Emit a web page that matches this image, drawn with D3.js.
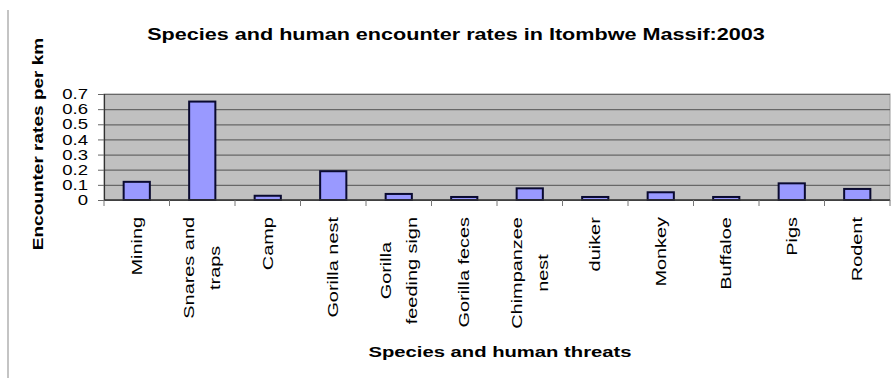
<!DOCTYPE html>
<html>
<head>
<meta charset="utf-8">
<script src="https://cdn.jsdelivr.net/npm/d3@7"></script>
<style>
	body { margin: 0; background: #fff; }
	svg text { font-family: "Liberation Sans", Arial, sans-serif; fill: #000; }
</style>
</head>
<body>
<script>
// data
var categories = ["Mining", "Snares and\ntraps", "Camp", "Gorilla nest", "Gorilla\nfeeding sign",
	"Gorilla feces", "Chimpanzee\nnest", "duiker", "Monkey", "Buffaloe", "Pigs", "Rodent"];
var rates = [0.12, 0.65, 0.028, 0.19, 0.04, 0.02, 0.077, 0.02, 0.051, 0.02, 0.11, 0.073];
var yTicks = [0, 0.1, 0.2, 0.3, 0.4, 0.5, 0.6, 0.7];

var width = 894,
	height = 378;
var plot = {left: 104, right: 890, top: 94, bottom: 200};

var data = categories.map(function(c, i) { return {name: c, rate: rates[i]}; });

var svg = d3.select("body")
	.append("svg")
	.attr("width", width)
	.attr("height", height);

// grey rule on the left of the figure
svg.append("line")
	.attr("x1", 8).attr("x2", 8)
	.attr("y1", 10).attr("y2", height)
	.attr("stroke", "#c4c4c4")
	.attr("stroke-width", 2);

var x = d3.scaleBand()
	.domain(categories)
	.range([plot.left, plot.right])
	.padding(0);

var y = d3.scaleLinear()
	.domain([0, 0.7])
	.range([plot.bottom, plot.top]);

// plot area
svg.append("rect")
	.attr("x", plot.left)
	.attr("y", plot.top)
	.attr("width", plot.right - plot.left)
	.attr("height", plot.bottom - plot.top)
	.attr("fill", "#c0c0c0")
	.attr("stroke", "#9a9a9a")
	.attr("stroke-width", 1);

// grid lines
var grid = svg.append("g")
	.attr("transform", "translate(" + plot.left + ",0)")
	.call(d3.axisLeft(y).tickValues(yTicks).tickSize(-(plot.right - plot.left)).tickFormat(""));
grid.select(".domain").remove();
grid.selectAll("line")
	.attr("stroke", "#676767")
	.attr("stroke-width", 1.2);

// bars
svg.selectAll(".bar")
	.data(data)
	.enter().append("rect")
	.attr("class", "bar")
	.attr("x", function(d) { return x(d.name) + x.bandwidth() * 0.3; })
	.attr("width", x.bandwidth() * 0.4)
	.attr("y", function(d) { return y(d.rate); })
	.attr("height", function(d) { return y(0) - y(d.rate); })
	.attr("fill", "#9999ff")
	.attr("stroke", "#0a0a30")
	.attr("stroke-width", 2);

// y axis
var yAxis = svg.append("g")
	.attr("transform", "translate(" + plot.left + ",0)")
	.call(d3.axisLeft(y).tickValues(yTicks).tickSize(6).tickPadding(6.5)
		.tickFormat(function(d) { return String(d); }));
yAxis.select(".domain").attr("stroke", "#333").attr("stroke-width", 1.2);
yAxis.selectAll("line").attr("stroke", "#666");
yAxis.selectAll("text")
	.style("font-size", "14.5px")
	.attr("transform", "scale(1.28,1)");

// x axis line and tick marks at category boundaries
svg.append("line")
	.attr("x1", plot.left).attr("x2", plot.right)
	.attr("y1", y(0)).attr("y2", y(0))
	.attr("stroke", "#333")
	.attr("stroke-width", 1.5);
svg.selectAll(".xtick")
	.data(categories.concat([null]))
	.enter().append("line")
	.attr("class", "xtick")
	.attr("x1", function(d) { return d === null ? x.range()[1] : x(d); })
	.attr("x2", function(d) { return d === null ? x.range()[1] : x(d); })
	.attr("y1", y(0))
	.attr("y2", y(0) + 6)
	.attr("stroke", "#777");

// category labels, rotated, lines centred on the band
var lineGap = 26, stretch = 1.42;
var labels = svg.selectAll(".xlabel")
	.data(categories)
	.enter().append("g")
	.attr("class", "xlabel")
	.attr("transform", function(d) {
		return "translate(" + (x(d) + x.bandwidth() / 2) + "," + 217 + ") rotate(-90)";
	});
labels.each(function(d) {
	var lines = d.split("\n");
	var t = d3.select(this).append("text")
		.style("font-size", "14px")
		.attr("text-anchor", "middle");
	lines.forEach(function(s, i) {
		t.append("tspan")
			.attr("x", 0)
			.attr("y", (i - (lines.length - 1) / 2) * lineGap)
			.attr("dy", "0.35em")
			.text(s);
	});
	var w = t.node().getBBox().width;
	t.attr("transform", "translate(" + (-w * stretch / 2) + ",0) scale(" + stretch + ",1)");
});

// titles
svg.append("text")
	.attr("transform", "translate(456,40) scale(1.27,1)")
	.attr("text-anchor", "middle")
	.style("font-size", "17px")
	.style("font-weight", "bold")
	.text("Species and human encounter rates in Itombwe Massif:2003");

svg.append("text")
	.attr("transform", "translate(500,357) scale(1.35,1)")
	.attr("text-anchor", "middle")
	.style("font-size", "15px")
	.style("font-weight", "bold")
	.text("Species and human threats");

svg.append("text")
	.attr("transform", "translate(43,144) rotate(-90) scale(1.27,1)")
	.attr("text-anchor", "middle")
	.style("font-size", "15px")
	.style("font-weight", "bold")
	.text("Encounter rates per km");
</script>
</body>
</html>
